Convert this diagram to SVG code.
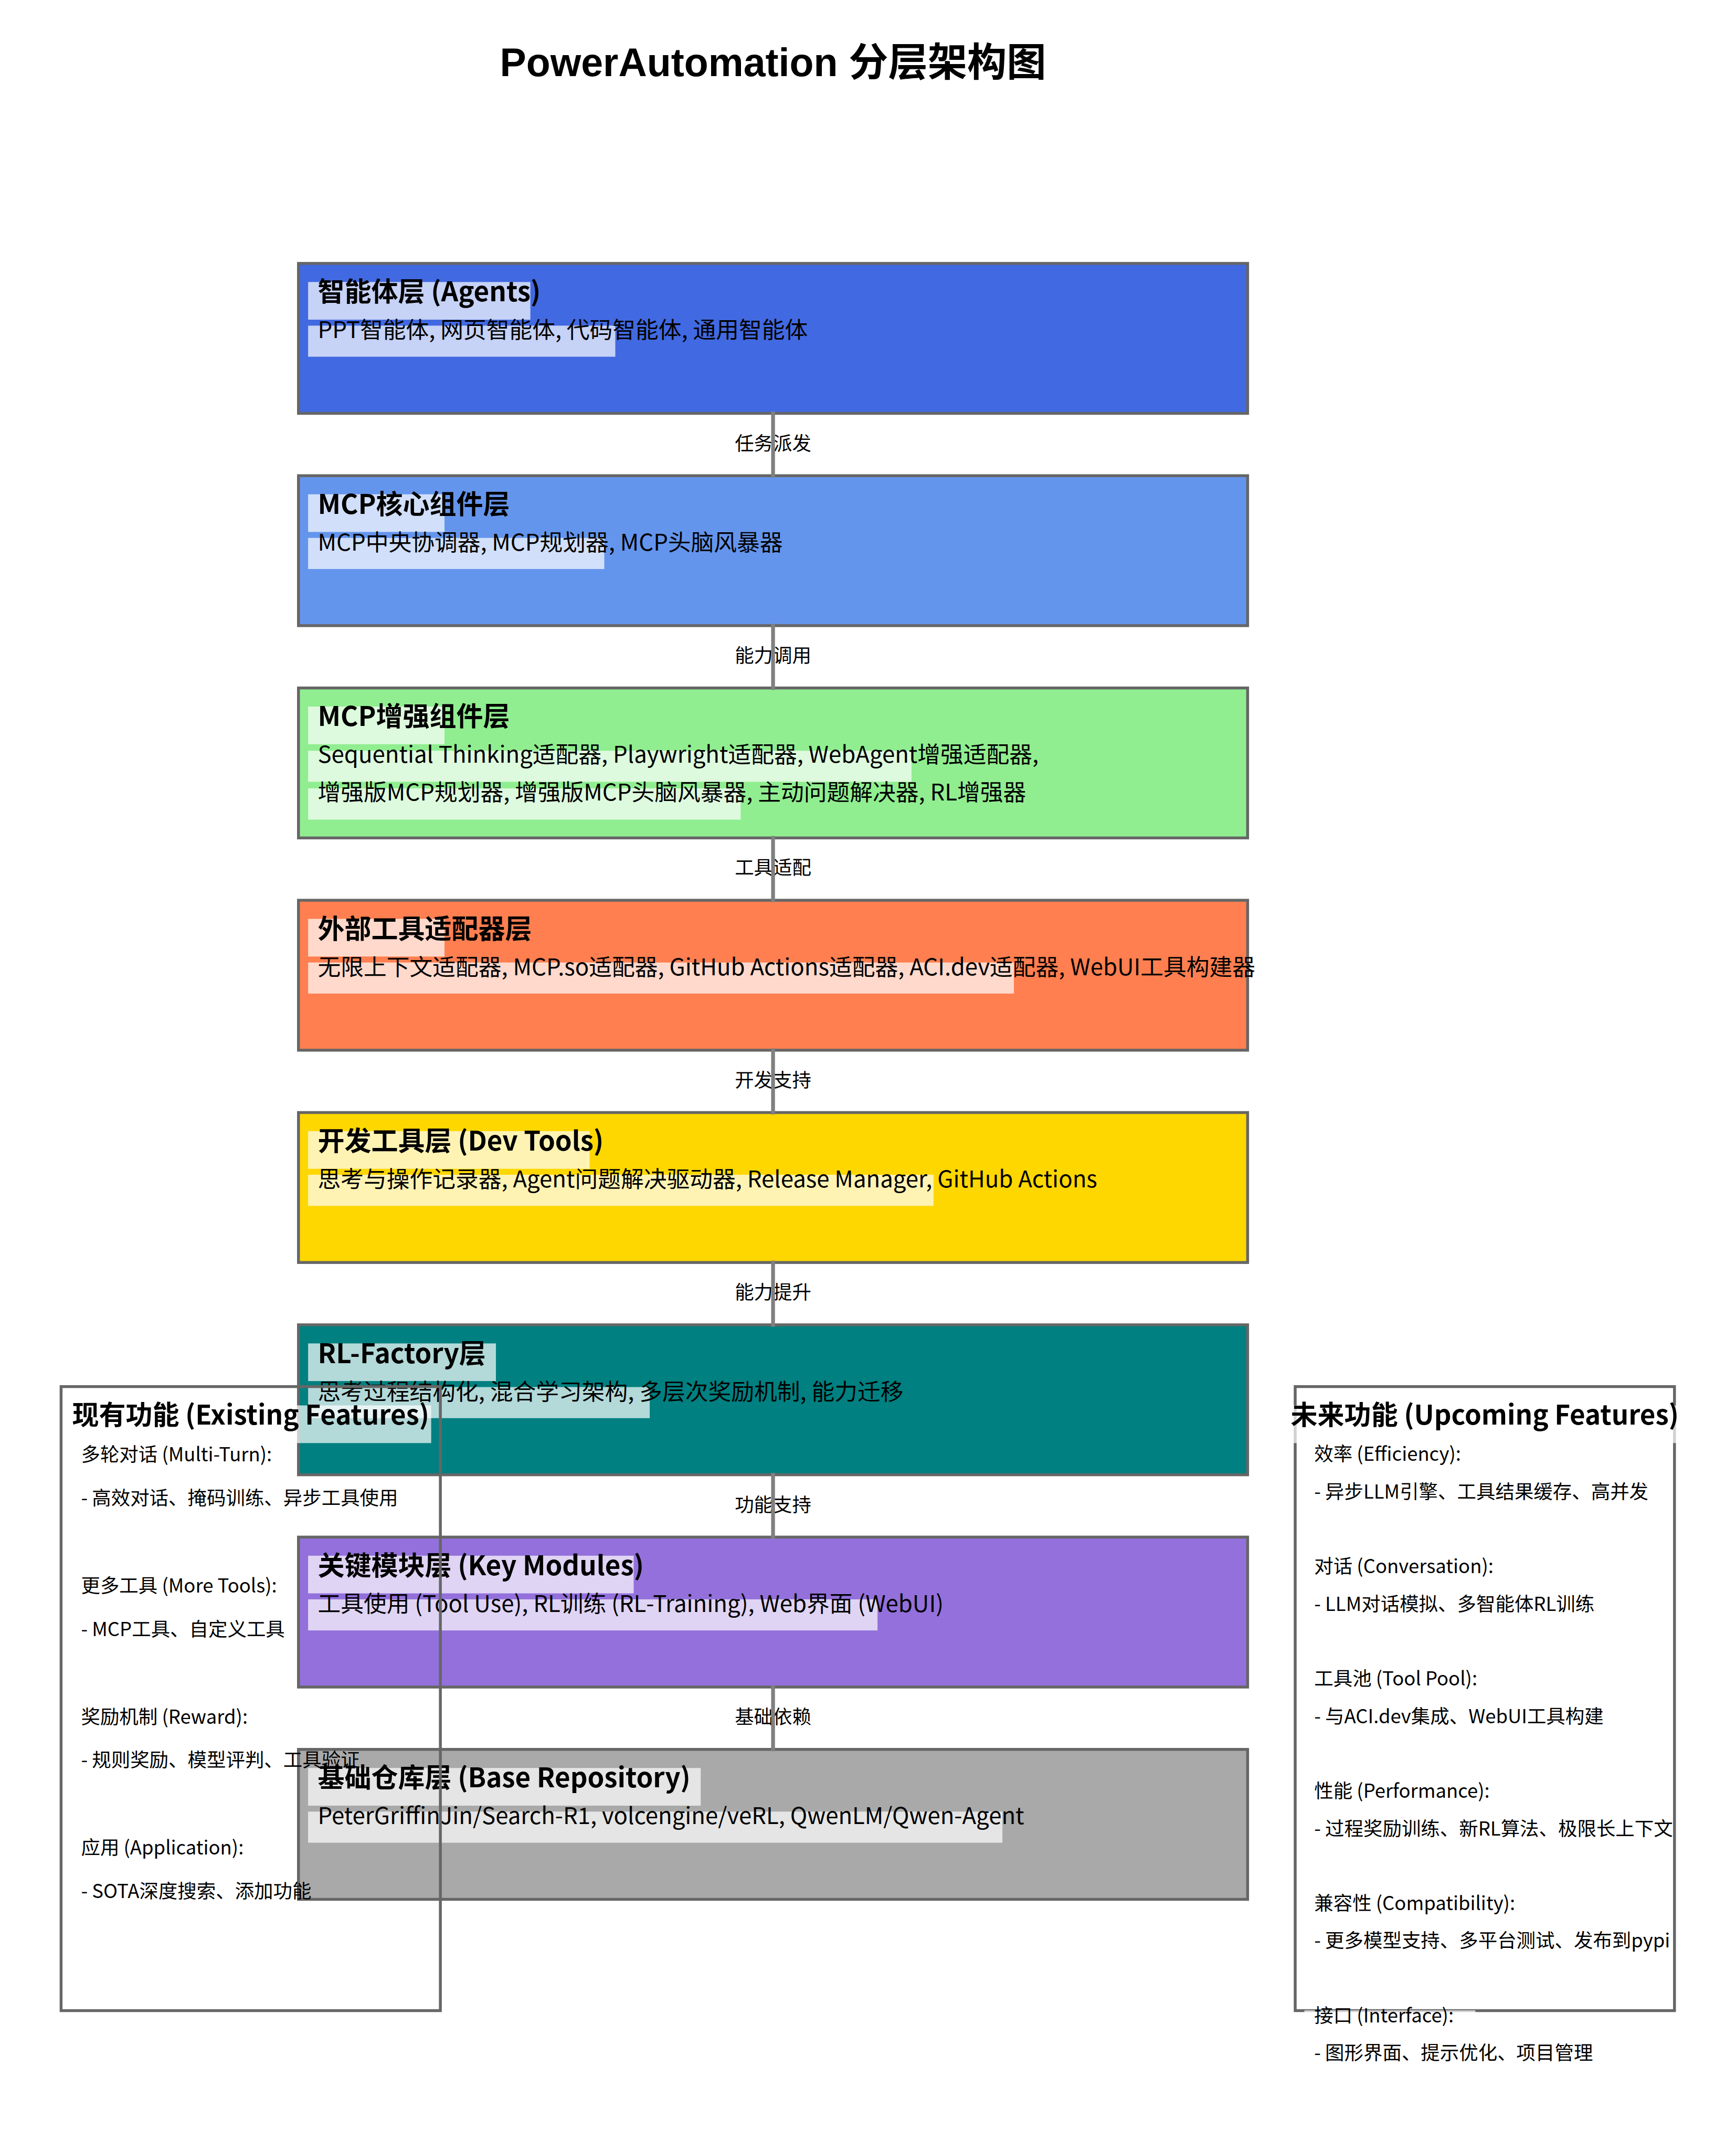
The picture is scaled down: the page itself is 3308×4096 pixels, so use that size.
<svg xmlns="http://www.w3.org/2000/svg" width="3308" height="4096" viewBox="0 0 3308 4096">
<style>
.bg{fill:#ffffff}
.box{stroke:#666666;stroke-width:6.25}
.hl{fill:#ffffff;fill-opacity:0.7}
.ttl{font-family:"Noto Sans CJK SC",sans-serif;font-weight:bold;font-size:58.33px;fill:#000}
.sub{font-family:"Noto Sans CJK SC",sans-serif;font-size:50px;fill:#000}
.lbl{font-family:"Noto Sans CJK SC",sans-serif;font-size:41.67px;fill:#000;text-anchor:middle}
.conn{stroke:#808080;stroke-width:8.33;stroke-linecap:square;fill:none}
.panel{fill:none;stroke:#666666;stroke-width:6.25}
.ptl{font-family:"Noto Sans CJK SC",sans-serif;font-weight:bold;font-size:58.33px;fill:#000;text-anchor:middle}
.itm{font-family:"Noto Sans CJK SC",sans-serif;font-size:41.67px;fill:#000}
.main{font-family:"Liberation Sans","Noto Sans CJK SC",sans-serif;font-weight:bold;font-size:86px;fill:#000;text-anchor:middle}
</style>
<rect class="bg" x="0" y="0" width="3308" height="4096"/>
<g transform="scale(0.875)">
<text id="title" class="main" x="1683.5" y="166">PowerAutomation 分层架构图</text>

<g id="layer-agents">
<rect class="box" x="650" y="573.5" width="2067" height="326.5" fill="#4169E1"/>
<rect class="hl" x="671" y="614" width="484" height="82"/>
<rect class="hl" x="671" y="709" width="669" height="67.7"/>
<text class="ttl" x="692" y="656.5">智能体层 (Agents)</text>
<text class="sub" x="692" y="736.5">PPT智能体, 网页智能体, 代码智能体, 通用智能体</text>
</g>

<g id="layer-mcp-core">
<rect class="box" x="650" y="1035.7" width="2067" height="326.5" fill="#6495ED"/>
<rect class="hl" x="671" y="1076.2" width="297" height="82"/>
<rect class="hl" x="671" y="1171.2" width="645" height="67.7"/>
<text class="ttl" x="692" y="1118.7">MCP核心组件层</text>
<text class="sub" x="692" y="1198.7">MCP中央协调器, MCP规划器, MCP头脑风暴器</text>
</g>

<g id="layer-mcp-enhanced">
<rect class="box" x="650" y="1497.9" width="2067" height="326.5" fill="#90EE90"/>
<rect class="hl" x="671" y="1538.4" width="297" height="82"/>
<rect class="hl" x="671" y="1634.6" width="1314" height="67.5"/>
<rect class="hl" x="671" y="1716.5" width="942" height="68"/>
<text class="ttl" x="692" y="1580.9">MCP增强组件层</text>
<text class="sub" x="692" y="1660.9">Sequential Thinking适配器, Playwright适配器, WebAgent增强适配器,</text>
<text class="sub" x="692" y="1742.9">增强版MCP规划器, 增强版MCP头脑风暴器, 主动问题解决器, RL增强器</text>
</g>

<g id="layer-adapters">
<rect class="box" x="650" y="1960.1" width="2067" height="326.5" fill="#FF7F50"/>
<rect class="hl" x="671" y="2000.6" width="297" height="82"/>
<rect class="hl" x="671" y="2095.6" width="1537" height="67.7"/>
<text class="ttl" x="692" y="2043.1">外部工具适配器层</text>
<text class="sub" x="692" y="2123.1">无限上下文适配器, MCP.so适配器, GitHub Actions适配器, ACI.dev适配器, WebUI工具构建器</text>
</g>

<g id="layer-devtools">
<rect class="box" x="650" y="2422.3" width="2067" height="326.5" fill="#FFD700"/>
<rect class="hl" x="671" y="2462.8" width="613" height="82"/>
<rect class="hl" x="671" y="2557.8" width="1362" height="67.7"/>
<text class="ttl" x="692" y="2505.3">开发工具层 (Dev Tools)</text>
<text class="sub" x="692" y="2585.3">思考与操作记录器, Agent问题解决驱动器, Release Manager, GitHub Actions</text>
</g>

<g id="layer-rlfactory">
<rect class="box" x="650" y="2884.5" width="2067" height="326.5" fill="#008080"/>
<rect class="hl" x="671" y="2925" width="409" height="82"/>
<rect class="hl" x="671" y="3020" width="744" height="67.7"/>
<text class="ttl" x="692" y="2967.5">RL-Factory层</text>
<text class="sub" x="692" y="3047.5">思考过程结构化, 混合学习架构, 多层次奖励机制, 能力迁移</text>
</g>

<g id="layer-keymodules">
<rect class="box" x="650" y="3346.7" width="2067" height="326.5" fill="#9370DB"/>
<rect class="hl" x="671" y="3387.2" width="709" height="82"/>
<rect class="hl" x="671" y="3482.2" width="1240" height="67.7"/>
<text class="ttl" x="692" y="3429.7">关键模块层 (Key Modules)</text>
<text class="sub" x="692" y="3509.7">工具使用 (Tool Use), RL训练 (RL-Training), Web界面 (WebUI)</text>
</g>

<g id="layer-base">
<rect class="box" x="650" y="3808.9" width="2067" height="326.5" fill="#A9A9A9"/>
<rect class="hl" x="671" y="3849.4" width="855" height="82"/>
<rect class="hl" x="671" y="3944.4" width="1512" height="67.7"/>
<text class="ttl" x="692" y="3891.9">基础仓库层 (Base Repository)</text>
<text class="sub" x="692" y="3971.9">PeterGriffinJin/Search-R1, volcengine/veRL, QwenLM/Qwen-Agent</text>
</g>

<g id="connectors">
<text class="lbl" x="1683.5" y="980">任务派发</text>
<text class="lbl" x="1683.5" y="1442.2">能力调用</text>
<text class="lbl" x="1683.5" y="1904.4">工具适配</text>
<text class="lbl" x="1683.5" y="2366.6">开发支持</text>
<text class="lbl" x="1683.5" y="2828.8">能力提升</text>
<text class="lbl" x="1683.5" y="3291">功能支持</text>
<text class="lbl" x="1683.5" y="3753.2">基础依赖</text>
<line class="conn" x1="1683.5" y1="900" x2="1683.5" y2="1035.7"/>
<line class="conn" x1="1683.5" y1="1362.2" x2="1683.5" y2="1497.9"/>
<line class="conn" x1="1683.5" y1="1824.4" x2="1683.5" y2="1960.1"/>
<line class="conn" x1="1683.5" y1="2286.6" x2="1683.5" y2="2422.3"/>
<line class="conn" x1="1683.5" y1="2748.8" x2="1683.5" y2="2884.5"/>
<line class="conn" x1="1683.5" y1="3211" x2="1683.5" y2="3346.7"/>
<line class="conn" x1="1683.5" y1="3673.2" x2="1683.5" y2="3808.9"/>
</g>

<g id="panel-existing">
<rect class="panel" x="133" y="3019" width="826" height="1358.7"/>
<rect class="hl" x="153" y="3060" width="786" height="82"/>
<text class="ptl" x="546" y="3102">现有功能 (Existing Features)</text>
<text class="itm" x="176.5" y="3182">多轮对话 (Multi-Turn):</text>
<text class="itm" x="176.5" y="3276.5">- 高效对话、掩码训练、异步工具使用</text>
<text class="itm" x="176.5" y="3467.3">更多工具 (More Tools):</text>
<text class="itm" x="176.5" y="3561.8">- MCP工具、自定义工具</text>
<text class="itm" x="176.5" y="3752.6">奖励机制 (Reward):</text>
<text class="itm" x="176.5" y="3847.1">- 规则奖励、模型评判、工具验证</text>
<text class="itm" x="176.5" y="4037.9">应用 (Application):</text>
<text class="itm" x="176.5" y="4132.4">- SOTA深度搜索、添加功能</text>
</g>

<g id="panel-upcoming">
<rect class="panel" x="2820.6" y="3019" width="826" height="1358.7"/>
<rect class="hl" x="2807" y="3060" width="853" height="82"/>
<text class="ptl" x="3233.5" y="3102">未来功能 (Upcoming Features)</text>
<text class="itm" x="2862" y="3181">效率 (Efficiency):</text>
<text class="itm" x="2862" y="3262.5">- 异步LLM引擎、工具结果缓存、高并发</text>
<text class="itm" x="2862" y="3425.5">对话 (Conversation):</text>
<text class="itm" x="2862" y="3507">- LLM对话模拟、多智能体RL训练</text>
<text class="itm" x="2862" y="3670">工具池 (Tool Pool):</text>
<text class="itm" x="2862" y="3751.5">- 与ACI.dev集成、WebUI工具构建</text>
<text class="itm" x="2862" y="3914.5">性能 (Performance):</text>
<text class="itm" x="2862" y="3996">- 过程奖励训练、新RL算法、极限长上下文</text>
<text class="itm" x="2862" y="4159">兼容性 (Compatibility):</text>
<text class="itm" x="2862" y="4240.5">- 更多模型支持、多平台测试、发布到pypi</text>
<rect class="hl" x="2840.6" y="4377" width="372.4" height="60"/>
<text class="itm" x="2862" y="4403.5">接口 (Interface):</text>
<text class="itm" x="2862" y="4485">- 图形界面、提示优化、项目管理</text>
</g>
</g>
</svg>
